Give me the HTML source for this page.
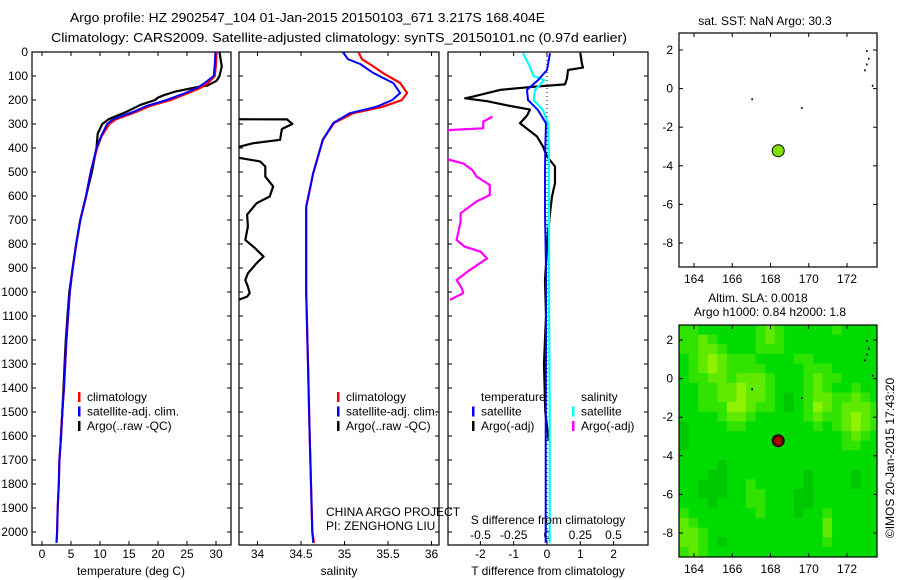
<!DOCTYPE html>
<html><head><meta charset="utf-8"><style>
html,body{margin:0;padding:0;background:#fff;}
svg{display:block;font-family:"Liberation Sans",sans-serif;}
</style></head><body>
<svg id="fig" width="900" height="580" viewBox="0 0 900 580" xmlns="http://www.w3.org/2000/svg">
<defs>
<clipPath id="c1"><rect x="32" y="52" width="199" height="493"/></clipPath>
<clipPath id="c2"><rect x="239" y="52" width="200" height="493"/></clipPath>
<clipPath id="c3"><rect x="448" y="52" width="200" height="493"/></clipPath>
<clipPath id="cm2"><rect x="679" y="325" width="198" height="232"/></clipPath>
</defs>
<text x="70" y="22" font-size="13" textLength="475" lengthAdjust="spacingAndGlyphs">Argo profile: HZ 2902547_104 01-Jan-2015 20150103_671 3.217S 168.404E</text>
<text x="51" y="42" font-size="13" textLength="576" lengthAdjust="spacingAndGlyphs">Climatology: CARS2009. Satellite-adjusted climatology: synTS_20150101.nc (0.97d earlier)</text>
<g id="layer"></g>
</svg>
<script>
// ---- data ----
const depthT=[0,50,100,130,150,175,200,225,250,280,300,350,400,500,600,700,800,900,1000,1100,1200,1300,1400,1500,1600,1700,1800,1900,2000,2045];
const climT=[30.1,30.0,29.8,28.6,27.3,24.8,22.2,18.6,16.2,12.8,11.6,10.3,9.5,8.4,7.6,6.6,5.9,5.3,4.8,4.5,4.2,4.0,3.8,3.5,3.3,3.0,2.9,2.7,2.6,2.5];
const satT=[29.9,29.8,29.6,28.0,26.7,24.3,21.5,18.0,15.7,12.3,11.2,10.2,9.4,8.4,7.6,6.6,5.9,5.3,4.8,4.5,4.2,4.0,3.8,3.5,3.3,3.0,2.9,2.7,2.6,2.5];
const depthArgoT=[0,30,60,100,120,140,150,165,180,190,200,220,250,280,300,340,400,450,500,600,700,800,900,1000,1100,1200,1300,1400,1500,1620];
const argoT=[30.6,30.8,31.0,30.6,30.1,28.5,26.0,23.0,21.0,20.0,19.5,17.0,14.5,11.5,10.4,9.6,9.4,9.0,8.6,7.6,6.6,5.9,5.3,4.7,4.4,4.1,3.9,3.7,3.5,3.2];
const depthS=[0,30,50,87,129,171,200,228,255,296,366,505,645,800,1000,1300,1600,2000,2045];
const satS=[34.98,35.04,35.18,35.33,35.56,35.64,35.55,35.37,35.06,34.87,34.75,34.64,34.56,34.56,34.56,34.58,34.6,34.63,34.64];
const climS=[35.16,35.2,35.29,35.44,35.64,35.72,35.66,35.44,35.1,34.88,34.75,34.64,34.56,34.56,34.56,34.58,34.6,34.63,34.65];
const depthArgoS=[280,281,300,321,366,380,394,420,442,456,477,519,560,602,630,678,727,783,817,852,880,922,950,978,1005,1019,1033];
const argoS=[33.6,34.34,34.40,34.28,34.26,33.95,33.80,33.5,33.80,34.03,34.09,34.09,34.18,34.14,33.99,33.88,33.89,33.86,33.97,34.07,33.99,33.89,33.86,33.89,33.91,33.88,33.78];
const depthSatTd=[5,75,117,158,200,242,297,400,505,672,900,1200,1600,2045];
const satTdiff=[0.09,0,-0.27,-0.6,-0.57,-0.27,-0.03,-0.05,-0.06,-0.06,-0.03,-0.03,-0.04,-0.04];
const depthSatSd=[5,60,100,117,158,200,242,300,500,1000,1500,2045];
const satSdiff=[-0.18,-0.13,-0.1,-0.02,-0.09,-0.1,-0.03,0.01,0.015,0.015,0.02,0.02];
const depthArgoTd=[5,50,65,75,110,135,145,158,185,193,205,225,240,265,297,352,394,435,477,547,602,672,755,950,1100,1300,1500,1620];
const argoTdiff=[1.0,1.05,1.08,0.63,0.6,0.54,-0.42,-1.41,-2.2,-2.46,-1.8,-1.1,-0.51,-0.6,-0.81,-0.3,-0.12,0,0.24,0.24,0.15,0.09,0.03,-0.06,-0.03,-0.09,-0.05,0.05];
const depthArgoSd=[269,290,318,325,346,400,450,464,492,519,554,596,623,672,707,783,811,832,860,908,950,985,1005,1033];
const argoSdiff=[-0.41,-0.48,-0.48,-0.73,-0.85,-0.9,-0.73,-0.63,-0.56,-0.53,-0.43,-0.43,-0.53,-0.65,-0.65,-0.68,-0.62,-0.5,-0.45,-0.58,-0.68,-0.64,-0.63,-0.73];
const depthTicks=[0,100,200,300,400,500,600,700,800,900,1000,1100,1200,1300,1400,1500,1600,1700,1800,1900,2000];
const tTicks=[0,5,10,15,20,25,30];
const sTicks=[34,34.5,35,35.5,36];
const tdTicks=[-2,-1,0,1,2];
const sdTicks=[-0.5,-0.25,0,0.25,0.5];
const lonTicks=[164,166,168,170,172];
const latTicks=[2,0,-2,-4,-6,-8];
const argoLon=168.404, argoLat=-3.217;
const slaLonStart=163.22, slaLatStart=2.78, slaCell=0.5;
const slaLevels=[
[2,2,1,1,1,1,1,1,2,3,2,1,1,1,1,1,2,1,1,1,1],
[2,2,3,2,1,1,1,1,2,3,2,1,1,1,1,1,1,1,1,1,1],
[2,2,3,3,2,1,1,1,2,2,2,1,1,1,1,1,1,1,1,1,1],
[1,2,3,4,3,2,2,2,1,1,1,1,2,2,1,1,1,1,1,1,1],
[1,2,3,4,3,2,2,2,2,1,1,1,1,2,2,2,1,1,1,1,1],
[1,2,2,3,3,2,3,3,3,2,1,1,1,2,3,2,2,1,1,1,1],
[1,1,2,2,3,3,4,3,3,2,1,1,1,2,3,2,1,1,2,1,1],
[1,1,2,2,3,3,4,3,3,2,1,0,1,2,3,3,2,2,3,2,1],
[1,1,2,2,2,4,4,3,2,2,1,0,1,2,4,3,2,3,3,3,2],
[1,1,1,1,2,3,3,2,1,1,1,1,1,2,3,2,2,3,4,3,2],
[0,1,1,1,1,2,2,1,1,1,1,1,1,1,2,1,2,3,4,3,2],
[0,1,1,1,1,1,1,1,1,1,1,1,1,1,1,1,1,2,3,2,1],
[0,1,1,1,1,1,1,1,1,1,1,1,1,1,1,1,1,2,2,1,1],
[1,1,1,1,1,1,1,1,1,1,1,1,1,1,1,1,1,1,1,1,1],
[1,1,1,1,0,1,1,1,1,1,1,1,1,1,1,1,1,1,1,1,1],
[1,1,1,0,0,1,1,1,1,1,1,1,1,0,1,1,1,1,0,1,1],
[1,1,0,0,0,1,1,2,1,1,1,1,1,0,1,1,1,1,0,1,1],
[1,1,0,0,0,1,1,2,2,1,1,1,0,0,1,1,1,1,1,1,1],
[1,1,1,0,1,1,1,2,2,1,1,1,0,0,1,1,1,1,1,1,1],
[2,1,1,1,1,1,1,1,2,1,1,1,0,1,1,2,1,1,1,1,1],
[3,2,1,1,1,1,1,1,1,1,1,1,1,1,1,3,1,1,1,1,1],
[3,3,2,1,1,1,1,1,1,1,1,1,1,1,1,3,1,1,1,1,1],
[3,3,2,1,0,1,1,1,1,1,1,1,1,1,1,2,1,1,1,1,1],
[2,3,2,1,1,1,1,1,1,1,1,1,1,1,1,1,1,1,1,1,1]];
const slaColors=["#00c800","#00dc00","#30e400","#60ea00","#90f200"];

// ---- axes ----
const NS="http://www.w3.org/2000/svg";
const L=document.getElementById('layer');
function mk(tag,attrs,parent){const e=document.createElementNS(NS,tag);for(const k in attrs)e.setAttribute(k,attrs[k]);(parent||L).appendChild(e);return e;}
const yD=d=>52+0.24*d;
const xT=t=>42+5.8*t;
const xS=s=>257.5+87*(s-34);
const xTd=t=>547+33.3*t;
const xSd=s=>547+133*s;
const mLonX=lon=>694+19.125*(lon-164);
const mLatY1=lat=>50+19.3*(2-lat);
const mLatY2=lat=>340+19.3*(2-lat);

function txt(x,y,s,opts){const t=mk('text',Object.assign({x:x,y:y,'font-size':12},opts||{}));t.textContent=s;return t;}

function frame(x0,x1,name){
  const r=mk('rect',{x:x0,y:52,width:x1-x0,height:493,fill:'none',stroke:'#000','stroke-width':1.2});
  
  
  depthTicks.forEach(d=>{mk('line',{x1:x0,x2:x0+4,y1:yD(d),y2:yD(d),stroke:'#000'});mk('line',{x1:x1-4,x2:x1,y1:yD(d),y2:yD(d),stroke:'#000'});});
}
function path(xs,ys,xf,col,clip,name,w){
  let d='';for(let i=0;i<xs.length;i++){d+=(i?'L':'M')+xf(xs[i]).toFixed(1)+','+yD(ys[i]).toFixed(1);}
  const p=mk('path',{d:d,fill:'none',stroke:col,'stroke-width':w||2,'clip-path':'url(#'+clip+')','stroke-linejoin':'round'});
  
  
}
function xticks(vals,f,ylab){
  vals.forEach(v=>{const x=f(v);mk('line',{x1:x,x2:x,y1:52,y2:56,stroke:'#000'});mk('line',{x1:x,x2:x,y1:541,y2:545,stroke:'#000'});
    const t=txt(x,ylab,String(v),{'text-anchor':'middle'});});
}

// panel 1
frame(32,231,'temperature-panel');
depthTicks.forEach(d=>{const t=txt(28,yD(d)+4,String(d),{'text-anchor':'end'});});
xticks(tTicks,xT,558);
path(argoT,depthArgoT,xT,'#000','c1','argo-temperature-line',2.2);
path(climT,depthT,xT,'#f00','c1','climatology-temperature-line',2.2);
path(satT,depthT,xT,'#00f','c1','satellite-temperature-line',2);
txt(131,575,'temperature (deg C)',{'text-anchor':'middle'});

// panel 2
frame(239,439,'salinity-panel');
xticks(sTicks,xS,558);
path(argoS,depthArgoS,xS,'#000','c2','argo-salinity-line',2.2);
path(climS,depthS,xS,'#f00','c2','climatology-salinity-line',2.2);
path(satS,depthS,xS,'#00f','c2','satellite-salinity-line',2);
txt(339,575,'salinity',{'text-anchor':'middle'});

// panel 3
frame(448,648,'difference-panel');
xticks(tdTicks,xTd,558);
sdTicks.forEach(v=>{const t=txt(xSd(v),539,String(v),{'text-anchor':'middle'});});
mk('line',{x1:547,x2:547,y1:52,y2:545,stroke:'#000','stroke-dasharray':'1,3'});
path(argoSdiff,depthArgoSd,xSd,'#f0f','c3','argo-salinity-diff-line',2.2);
path(argoTdiff,depthArgoTd,xTd,'#000','c3','argo-temperature-diff-line',2.2);
path(satSdiff,depthSatSd,xSd,'#0ff','c3','satellite-salinity-diff-line',2.2);
path(satTdiff,depthSatTd,xTd,'#00f','c3','satellite-temperature-diff-line',2);
txt(548,575,'T difference from climatology',{'text-anchor':'middle'});
txt(548,524,'S difference from climatology',{'text-anchor':'middle'});

// legends
function leg(x,y,col,label,name){
  const g=mk('g',{});
  
  
  mk('rect',{x:x,y:y-9,width:2.5,height:10,fill:col},g);
  const t=mk('text',{x:x+9,y:y,'font-size':12},g);t.textContent=label;
}
[['#f00','climatology'],['#00f','satellite-adj. clim.'],['#000','Argo(..raw -QC)']].forEach((a,i)=>leg(78,401+i*14.5,a[0],a[1],'temp-legend-entry'));
[['#f00','climatology'],['#00f','satellite-adj. clim.'],['#000','Argo(..raw -QC)']].forEach((a,i)=>leg(337,401+i*14.5,a[0],a[1],'sal-legend-entry'));
txt(481,401,'temperature');
txt(581,401,'salinity');
leg(472,415.5,'#00f','satellite','diff-legend-entry');
leg(472,430,'#000','Argo(-adj)','diff-legend-entry');
leg(572,415.5,'#0ff','satellite','diff-legend-entry');
leg(572,430,'#f0f','Argo(-adj)','diff-legend-entry');
txt(326,516,'CHINA ARGO PROJECT');
txt(326,530,'PI: ZENGHONG LIU');

// maps
function mapFrame(y0,y1,latY,name,labY){
  const r=mk('rect',{x:679,y:y0,width:198,height:y1-y0,fill:'none',stroke:'#000','stroke-width':1.2});
  
  
  lonTicks.forEach(v=>{const x=mLonX(v);mk('line',{x1:x,x2:x,y1:y0,y2:y0+4,stroke:'#000'});mk('line',{x1:x,x2:x,y1:y1-4,y2:y1,stroke:'#000'});
    const t=txt(x,labY,String(v),{'text-anchor':'middle'});});
  latTicks.forEach(v=>{const y=latY(v);mk('line',{x1:679,x2:683,y1:y,y2:y,stroke:'#000'});mk('line',{x1:873,x2:877,y1:y,y2:y,stroke:'#000'});
    const t=txt(673,y+4,String(v),{'text-anchor':'end'});});
}
// SLA heatmap
slaLevels.forEach((row,i)=>row.forEach((lv,j)=>{
  const lon0=slaLonStart+j*slaCell, lat0=slaLatStart-i*slaCell;
  const x0=mLonX(lon0),x1=mLonX(lon0+slaCell),y0=mLatY2(lat0),y1=mLatY2(lat0-slaCell);
  const c=mk('rect',{x:x0,y:y0,width:x1-x0+0.5,height:y1-y0+0.5,fill:slaColors[lv],'clip-path':'url(#cm2)'});
  
  
}));
mapFrame(33,267,mLatY1,'sst-map',283);
mapFrame(325,557,mLatY2,'sla-map',573);
[mLatY1,mLatY2].forEach(fy=>{
  [[173.0,2.0],[173.1,1.6],[173.0,1.3],[172.9,1.0],[173.3,0.2],[167.0,-0.5],[169.6,-0.95]].forEach(p=>{mk('rect',{x:mLonX(p[0]),y:fy(p[1]),width:1.5,height:2,fill:'#000'});});
});
const m1=mk('circle',{cx:mLonX(argoLon),cy:mLatY1(argoLat),r:6,fill:'#80e000',stroke:'#000','stroke-width':1});


const m2=mk('circle',{cx:mLonX(argoLon),cy:mLatY2(argoLat),r:6,fill:'#b00000',stroke:'#000','stroke-width':1});


mk('circle',{cx:mLonX(argoLon),cy:mLatY2(argoLat),r:4.5,fill:'none',stroke:'#000','stroke-width':0.8});
txt(765,25,'sat. SST: NaN Argo: 30.3',{'text-anchor':'middle'});
txt(758,302,'Altim. SLA: 0.0018',{'text-anchor':'middle'});
txt(770,316,'Argo h1000: 0.84 h2000: 1.8',{'text-anchor':'middle'});
const cr=txt(0,0,'©IMOS 20-Jan-2015 17:43:20',{'text-anchor':'middle',transform:'translate(894,458) rotate(-90)'});


</script>
</body></html>
